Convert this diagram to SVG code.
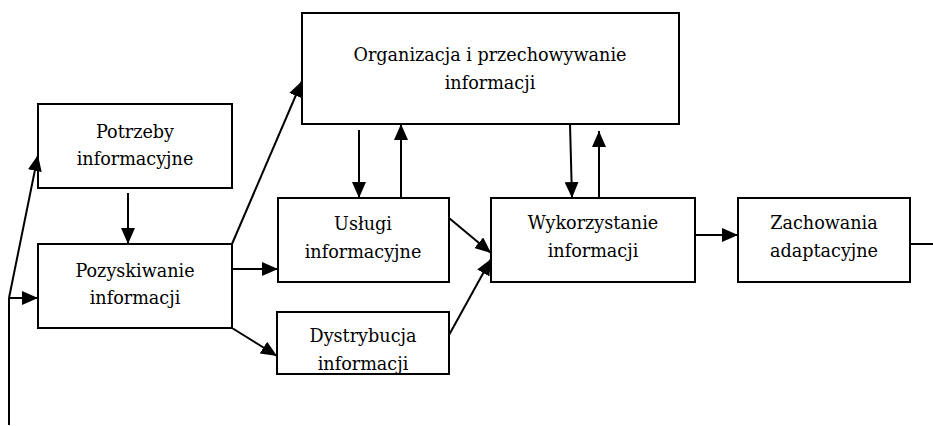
<svg xmlns="http://www.w3.org/2000/svg" width="933" height="426" viewBox="0 0 933 426">
  <style>
    .box { fill: #fff; stroke: #000; stroke-width: 2; }
    .lbl { font-family: "DejaVu Serif", "Liberation Serif", serif; font-size: 17.6px; fill: #000; text-anchor: middle; }
    .ln { fill: none; stroke: #000; stroke-width: 2; }
    .arr { fill: none; stroke: #000; stroke-width: 2; marker-end: url(#head); }
  </style>
  <defs>
    <marker id="head" markerWidth="16" markerHeight="14" refX="16" refY="7" orient="auto" markerUnits="userSpaceOnUse">
      <path d="M0,0 L16,7 L0,14 Z" fill="#000"/>
    </marker>
  </defs>

  <g id="potrzeby">
    <rect class="box" x="38" y="104" width="194" height="84"/>
    <text class="lbl" x="135" y="138">Potrzeby</text>
    <text class="lbl" x="135" y="165">informacyjne</text>
  </g>
  <g id="pozyskiwanie">
    <rect class="box" x="38" y="244" width="194" height="84"/>
    <text class="lbl" x="135" y="277">Pozyskiwanie</text>
    <text class="lbl" x="135" y="304">informacji</text>
  </g>
  <g id="organizacja">
    <rect class="box" x="302" y="13" width="377" height="111"/>
    <text class="lbl" x="490" y="61">Organizacja i przechowywanie</text>
    <text class="lbl" x="490" y="89">informacji</text>
  </g>
  <g id="uslugi">
    <rect class="box" x="278" y="198" width="171" height="84"/>
    <text class="lbl" x="363" y="230">Usługi</text>
    <text class="lbl" x="363" y="258">informacyjne</text>
  </g>
  <g id="dystrybucja">
    <rect class="box" x="277" y="312" width="172" height="62"/>
    <text class="lbl" x="363" y="342">Dystrybucja</text>
    <text class="lbl" x="363" y="370">informacji</text>
  </g>
  <g id="wykorzystanie">
    <rect class="box" x="491" y="198" width="204" height="84"/>
    <text class="lbl" x="593" y="229">Wykorzystanie</text>
    <text class="lbl" x="593" y="257">informacji</text>
  </g>
  <g id="zachowania">
    <rect class="box" x="738" y="198" width="172" height="84"/>
    <text class="lbl" x="824" y="229">Zachowania</text>
    <text class="lbl" x="824" y="257">adaptacyjne</text>
  </g>

  <g id="connectors">
    <!-- feedback loop entering from the left -->
    <line class="ln" x1="9" y1="425" x2="9" y2="298"/>
    <line class="arr" x1="9" y1="298" x2="38" y2="155"/>
    <line class="arr" x1="9" y1="298" x2="38" y2="298"/>
    <line class="arr" x1="128" y1="193" x2="128" y2="244"/>
    <!-- from Pozyskiwanie -->
    <line class="arr" x1="232" y1="244" x2="302" y2="81"/>
    <line class="arr" x1="232" y1="269" x2="278" y2="269"/>
    <line class="arr" x1="232" y1="328" x2="277" y2="356"/>
    <!-- Organizacja <-> Usługi -->
    <line class="arr" x1="359" y1="130" x2="359" y2="198"/>
    <line class="arr" x1="401" y1="198" x2="401" y2="124"/>
    <!-- into Wykorzystanie -->
    <line class="arr" x1="449" y1="218" x2="491" y2="253"/>
    <line class="arr" x1="449" y1="335" x2="491" y2="259"/>
    <!-- Organizacja <-> Wykorzystanie -->
    <line class="arr" x1="570" y1="124" x2="572" y2="198"/>
    <line class="arr" x1="599" y1="198" x2="599" y2="131"/>
    <!-- onward -->
    <line class="arr" x1="695" y1="235" x2="738" y2="235"/>
    <line class="ln" x1="910" y1="244" x2="933" y2="244"/>
  </g>
</svg>
